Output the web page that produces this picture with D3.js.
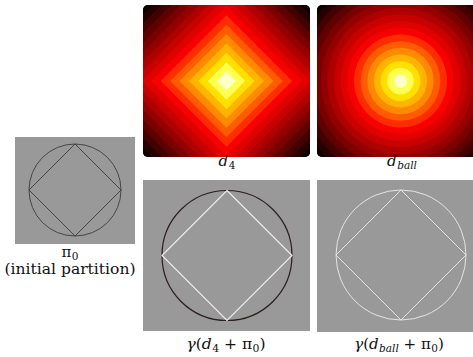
<!DOCTYPE html>
<html>
<head>
<meta charset="utf-8">
<script src="https://cdn.jsdelivr.net/npm/d3@7"></script>
<style>
  body { margin: 0; background: #fff; }
  svg { display: block; }
</style>
</head>
<body>
<script>
"use strict";
// colour bands of the two distance maps, from the centre outwards
const bandColors = ["#ffffc8", "#ffff50", "#ffe000", "#ffb400", "#ff8a00", "#ff5c00", "#ff2c00", "#f80000",
                    "#e00000", "#c80000", "#ae0000", "#940000", "#7a0000", "#5e0000", "#420000", "#260000", "#0c0000"]
// the partition pi_0 in unit coordinates: a circle and the square inscribed in it
const circleRadius = 1
const diamondCorners = [[0, 1], [1, 0], [0, -1], [-1, 0]]
// captions, as [text, style] pieces
const captions = {
    d4: [["d", "i"], ["4", "sub"]],
    dball: [["d", "i"], ["ball", "subi"]],
    pi0: [["π", "n"], ["0", "sub"]],
    pi0b: [["(initial partition)", "n"]],
    gd4: [["γ", "i"], ["(", "n"], ["d", "i"], ["4", "sub"], [" + π", "n"], ["0", "sub"], [")", "n"]],
    gdball: [["γ", "i"], ["(", "n"], ["d", "i"], ["ball", "subi"], [" + π", "n"], ["0", "sub"], [")", "n"]]
}

;(function(){
    const measurements = { width: 473, height: 357 }
    const gray = "#999999"
    const serif = "'DejaVu Serif', serif"

    let svg = d3.select("body").append("svg")
        .attr("width", measurements.width)
        .attr("height", measurements.height)
    let defs = svg.append("defs")

    function panel(id, x, y, w, h, rx) {
        defs.append("clipPath").attr("id", "clip-" + id)
            .append("rect").attr("x", x).attr("y", y).attr("width", w).attr("height", h).attr("rx", rx)
        return svg.append("g").attr("clip-path", "url(#clip-" + id + ")")
    }

    function drawDistance(g, kind, box) {
        const cx = box.x + box.w / 2, cy = box.y + box.h / 2
        const dmax = kind === "l1" ? (box.w + box.h) / 2 : Math.hypot(box.w / 2, box.h / 2)
        let scaleR = d3.scaleLinear().domain([0, bandColors.length]).range([0, dmax])
        g.append("rect").attr("x", box.x).attr("y", box.y).attr("width", box.w).attr("height", box.h).attr("fill", "#000")
        let bands = bandColors.map((c, i) => ({ c: c, r: scaleR(i + 1) })).reverse()
        if (kind === "l1") {
            g.selectAll("path.band").data(bands).enter().append("path")
                .attr("class", "band")
                .attr("d", d => `M${cx - d.r},${cy}L${cx},${cy - d.r}L${cx + d.r},${cy}L${cx},${cy + d.r}Z`)
                .attr("fill", d => d.c)
        } else {
            g.selectAll("circle.band").data(bands).enter().append("circle")
                .attr("class", "band")
                .attr("cx", cx).attr("cy", cy).attr("r", d => d.r)
                .attr("fill", d => d.c)
        }
    }

    function drawPartition(g, box, cx, cy, r, circleColor, lineColor, width) {
        g.append("rect").attr("x", box.x).attr("y", box.y).attr("width", box.w).attr("height", box.h).attr("fill", gray)
        let x = d3.scaleLinear().domain([-1, 1]).range([cx - r, cx + r])
        let y = d3.scaleLinear().domain([-1, 1]).range([cy + r, cy - r])
        g.append("circle")
            .attr("cx", x(0)).attr("cy", y(0)).attr("r", x(circleRadius) - x(0))
            .attr("fill", "none").attr("stroke", circleColor).attr("stroke-width", width)
        let line = d3.line().x(d => x(d[0])).y(d => y(d[1])).curve(d3.curveLinearClosed)
        g.append("path").attr("d", line(diamondCorners))
            .attr("fill", "none").attr("stroke", lineColor).attr("stroke-width", width)
    }

    function addLabel(x, y, parts, size, len) {
        let t = svg.append("text").attr("x", x).attr("y", y)
            .attr("text-anchor", "middle").attr("font-size", size)
            .style("font-family", serif).attr("fill", "#111")
        if (len) t.attr("textLength", len).attr("lengthAdjust", "spacingAndGlyphs")
        let shifted = false
        parts.forEach(p => {
            let s = t.append("tspan").text(p[0])
            const sub = p[1] === "sub" || p[1] === "subi"
            if (sub && !shifted) { s.attr("dy", 2.5).attr("dx", 0.5); shifted = true }
            if (!sub && shifted) { s.attr("dy", -2.5); shifted = false }
            if (sub) s.attr("font-size", size * 0.7)
            if (p[1] === "i" || p[1] === "subi") s.attr("font-style", "italic")
        })
    }

    const top4 = { x: 143, y: 5, w: 167, h: 152 }
    const topBall = { x: 317, y: 5, w: 167, h: 152 }
    drawDistance(panel("d4", top4.x, top4.y, top4.w, top4.h, 5), "l1", top4)
    drawDistance(panel("dball", topBall.x, topBall.y, topBall.w, topBall.h, 5), "l2", topBall)

    const boxPi = { x: 15, y: 137, w: 120, h: 107 }
    drawPartition(panel("pi0", boxPi.x, boxPi.y, boxPi.w, boxPi.h, 0), boxPi, 75, 190, 46, "#3c3c3c", "#3c3c3c", 0.9)
    const bot4 = { x: 143, y: 180, w: 167, h: 151 }
    drawPartition(panel("gd4", bot4.x, bot4.y, bot4.w, bot4.h, 0), bot4, 227, 255.5, 65, "#2a1e1e", "#ececec", 1.2)
    const botBall = { x: 317, y: 180, w: 167, h: 152 }
    drawPartition(panel("gdball", botBall.x, botBall.y, botBall.w, botBall.h, 0), botBall, 401, 255, 65, "#e4e4e4", "#e4e4e4", 1)

    addLabel(227, 166, captions.d4, 15)
    addLabel(402, 166, captions.dball, 15)
    addLabel(70, 257, captions.pi0, 15)
    addLabel(70, 274, captions.pi0b, 14.5, 131)
    addLabel(226, 349, captions.gd4, 15.5)
    addLabel(399, 349, captions.gdball, 15)
})()
</script>
</body>
</html>
